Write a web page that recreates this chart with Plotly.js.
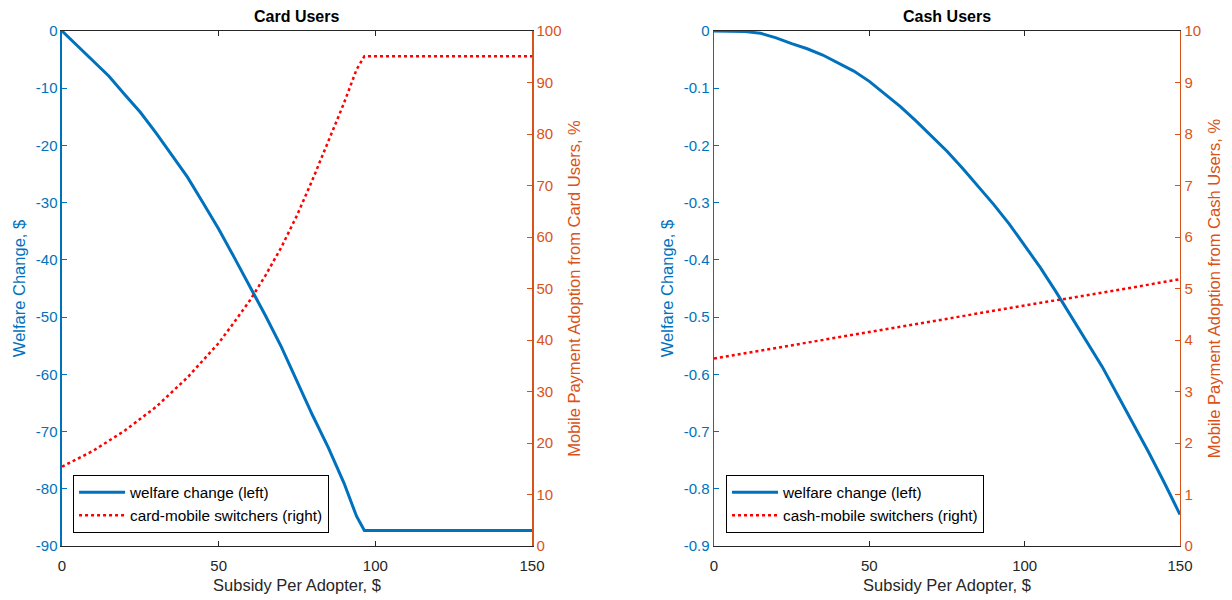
<!DOCTYPE html>
<html>
<head>
<meta charset="utf-8">
<script src="https://cdn.plot.ly/plotly-3.0.1.min.js"></script>
<style>
  html, body { margin: 0; padding: 0; background: #ffffff; }
  #chart { width: 1232px; height: 600px; }
</style>
</head>
<body>
<div id="chart"></div>
<script>
// Subsidy per adopter ($) and outcomes for card users
const cardSubsidy = [0, 5, 10, 15, 20, 25, 30, 35, 40, 45, 50, 55, 60, 65, 70, 75, 80, 85, 90, 94, 96.5, 100, 125, 150];
const cardWelfare = [0, -2.6, -5.2, -7.9, -11.1, -14.2, -17.8, -21.6, -25.5, -30.0, -34.6, -39.6, -44.7, -49.8, -55.2, -61.3, -67.2, -72.8, -79.0, -84.8, -87.3, -87.3, -87.3, -87.3];
const cardSwitchSubsidy = [0, 10, 20, 30, 40, 50, 55, 60, 65, 70, 75, 80, 85, 90, 94, 96.5, 100, 125, 150];
const cardSwitchers = [15.4, 18.5, 22.4, 27.0, 32.7, 39.4, 43.5, 47.7, 52.6, 58.0, 64.2, 71.2, 78.6, 86.0, 92.5, 95.1, 95.1, 95.1, 95.1];

// Subsidy per adopter ($) and outcomes for cash users
const cashSubsidy = [0, 5, 10, 15, 20, 25, 30, 35, 40, 45, 50, 55, 60, 65, 70, 75, 80, 85, 90, 95, 100, 105, 110, 115, 120, 125, 130, 135, 140, 145, 150];
const cashWelfare = [0, 0, -0.001, -0.004, -0.012, -0.022, -0.031, -0.042, -0.056, -0.070, -0.088, -0.110, -0.132, -0.157, -0.183, -0.210, -0.240, -0.271, -0.303, -0.337, -0.374, -0.413, -0.455, -0.499, -0.544, -0.587, -0.637, -0.686, -0.737, -0.790, -0.845];
const cashSwitchSubsidy = [0, 25, 50, 75, 100, 125, 150];
const cashSwitchers = [3.64, 3.90, 4.16, 4.42, 4.67, 4.92, 5.18];

// Tick values and labels
const xTicks = [0, 50, 100, 150];
const cardLeftTicks = [0, -10, -20, -30, -40, -50, -60, -70, -80, -90];
const cardLeftLabels = ['0', '-10', '-20', '-30', '-40', '-50', '-60', '-70', '-80', '-90'];
const cardRightTicks = [0, 10, 20, 30, 40, 50, 60, 70, 80, 90, 100];
const cashLeftTicks = [0, -0.1, -0.2, -0.3, -0.4, -0.5, -0.6, -0.7, -0.8, -0.9];
const cashLeftLabels = ['0', '-0.1', '-0.2', '-0.3', '-0.4', '-0.5', '-0.6', '-0.7', '-0.8', '-0.9'];
const cashRightTicks = [0, 1, 2, 3, 4, 5, 6, 7, 8, 9, 10];

const BLUE = '#0072BD';
const ORANGE = '#D95319';
const DARK = '#262626';
const FONT = 'Liberation Sans, Arial, sans-serif';

const traces = [
  { x: cardSubsidy, y: cardWelfare, xaxis: 'x', yaxis: 'y', type: 'scatter', mode: 'lines',
    name: 'welfare change (left)', line: { color: BLUE, width: 3 }, legend: 'legend' },
  { x: cardSwitchSubsidy, y: cardSwitchers, xaxis: 'x', yaxis: 'y2', type: 'scatter', mode: 'lines',
    name: 'card-mobile switchers (right)', line: { color: '#FF0000', width: 2.5, dash: 'dot' }, legend: 'legend' },
  { x: cashSubsidy, y: cashWelfare, xaxis: 'x2', yaxis: 'y3', type: 'scatter', mode: 'lines',
    name: 'welfare change (left)', line: { color: BLUE, width: 3 }, legend: 'legend2' },
  { x: cashSwitchSubsidy, y: cashSwitchers, xaxis: 'x2', yaxis: 'y4', type: 'scatter', mode: 'lines',
    name: 'cash-mobile switchers (right)', line: { color: '#FF0000', width: 2.5, dash: 'dot' }, legend: 'legend2' }
];

function xAxis(domain, anchor) {
  return {
    domain: domain, anchor: anchor, range: [0, 150],
    tickvals: xTicks, ticks: 'inside', ticklen: 5, tickcolor: DARK,
    showline: true, linecolor: DARK, linewidth: 1, mirror: 'ticks',
    showgrid: false, zeroline: false, ticklabelstandoff: 6,
    tickfont: { family: FONT, size: 15, color: DARK },
    title: { text: 'Subsidy Per Adopter, $', font: { family: FONT, size: 16.5, color: DARK }, standoff: 6 }
  };
}

function leftAxis(anchor, range, vals, labels) {
  return {
    domain: [0.09, 0.94833], anchor: anchor, range: range,
    tickvals: vals, ticktext: labels, ticks: 'inside', ticklen: 5, tickcolor: BLUE,
    showline: true, linecolor: BLUE, linewidth: 1.5,
    showgrid: false, zeroline: false,
    tickfont: { family: FONT, size: 15, color: BLUE },
    title: { text: 'Welfare Change, $', font: { family: FONT, size: 16.5, color: BLUE }, standoff: 6 }
  };
}

function rightAxis(anchor, overlay, range, vals, titleText) {
  return {
    domain: [0.09, 0.94833], anchor: anchor, overlaying: overlay, side: 'right', range: range,
    tickvals: vals, ticks: 'inside', ticklen: 5, tickcolor: ORANGE,
    showline: true, linecolor: ORANGE, linewidth: 1.5,
    showgrid: false, zeroline: false,
    tickfont: { family: FONT, size: 15, color: ORANGE },
    title: { text: titleText, font: { family: FONT, size: 16.5, color: ORANGE }, standoff: 8 }
  };
}

const legendStyle = {
  bgcolor: '#ffffff', bordercolor: '#000000', borderwidth: 1,
  font: { family: FONT, size: 15.3, color: '#000000' },
  xanchor: 'left', yanchor: 'bottom', tracegroupgap: 0, itemwidth: 46
};

const layout = {
  width: 1232, height: 600,
  margin: { l: 0, r: 0, t: 0, b: 0 },
  paper_bgcolor: '#ffffff', plot_bgcolor: '#ffffff',
  showlegend: true,
  xaxis: xAxis([0.05032, 0.43182], 'y'),
  yaxis: leftAxis('x', [-90, 0], cardLeftTicks, cardLeftLabels),
  yaxis2: rightAxis('x', 'y', [0, 100], cardRightTicks, 'Mobile Payment Adoption from Card Users, %'),
  xaxis2: xAxis([0.57955, 0.95779], 'y3'),
  yaxis3: leftAxis('x2', [-0.9, 0], cashLeftTicks, cashLeftLabels),
  yaxis4: rightAxis('x2', 'y3', [0, 10], cashRightTicks, 'Mobile Payment Adoption from Cash Users, %'),
  legend: Object.assign({}, legendStyle, { x: 0.0593, y: 0.112 }),
  legend2: Object.assign({}, legendStyle, { x: 0.5893, y: 0.112 }),
  annotations: [
    { text: '<b>Card Users</b>', xref: 'paper', yref: 'paper', x: 0.24107, y: 0.9717,
      xanchor: 'center', yanchor: 'middle', showarrow: false,
      font: { family: FONT, size: 16, color: '#000000' } },
    { text: '<b>Cash Users</b>', xref: 'paper', yref: 'paper', x: 0.76867, y: 0.9717,
      xanchor: 'center', yanchor: 'middle', showarrow: false,
      font: { family: FONT, size: 16, color: '#000000' } }
  ]
};

Plotly.newPlot('chart', traces, layout, { staticPlot: true, displayModeBar: false });
</script>
</body>
</html>
